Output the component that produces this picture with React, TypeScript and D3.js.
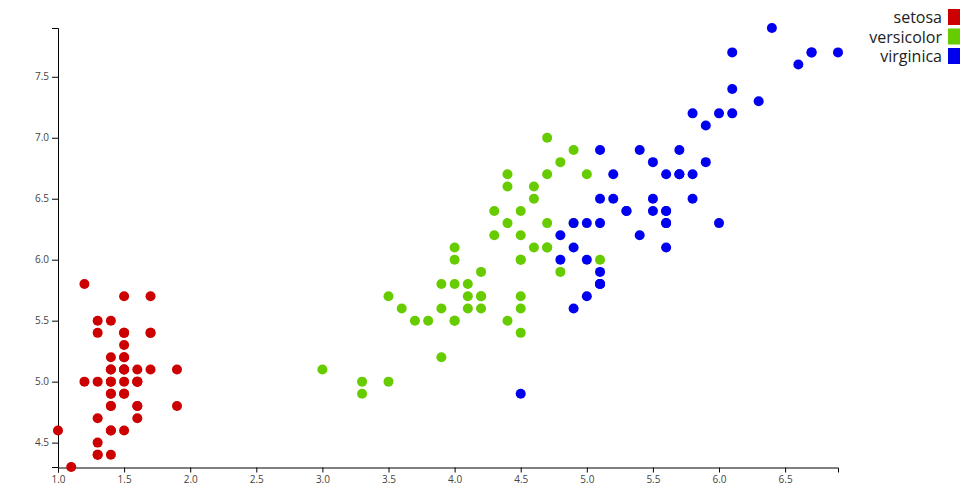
import React, { useEffect, useRef } from "react";
import * as d3 from "d3";

const species = ["setosa", "versicolor", "virginica"];
const colors = ["#cc0000", "#66cc00", "#0000ee"];

// petal length (x) and sepal length (y) per species
const setosaPetal = [1.4,1.4,1.3,1.5,1.4,1.7,1.4,1.5,1.4,1.5,1.5,1.6,1.4,1.1,1.2,1.5,1.3,1.4,1.7,1.5,1.7,1.5,1.0,1.7,1.9,1.6,1.6,1.5,1.4,1.6,1.6,1.5,1.5,1.4,1.5,1.2,1.3,1.4,1.3,1.5,1.3,1.3,1.3,1.6,1.9,1.4,1.6,1.4,1.5,1.4];
const setosaSepal = [5.1,4.9,4.7,4.6,5.0,5.4,4.6,5.0,4.4,4.9,5.4,4.8,4.8,4.3,5.8,5.7,5.4,5.1,5.7,5.1,5.4,5.1,4.6,5.1,4.8,5.0,5.0,5.2,5.2,4.7,4.8,5.4,5.2,5.5,4.9,5.0,5.5,4.9,4.4,5.1,5.0,4.5,4.4,5.0,5.1,4.8,5.1,4.6,5.3,5.0];
const versicolorPetal = [4.7,4.5,4.9,4.0,4.6,4.5,4.7,3.3,4.6,3.9,3.5,4.2,4.0,4.7,3.6,4.4,4.5,4.1,4.5,3.9,4.8,4.0,4.9,4.7,4.3,4.4,4.8,5.0,4.5,3.5,3.8,3.7,3.9,5.1,4.5,4.5,4.7,4.4,4.1,4.0,4.4,4.6,4.0,3.3,4.2,4.2,4.2,4.3,3.0,4.1];
const versicolorSepal = [7.0,6.4,6.9,5.5,6.5,5.7,6.3,4.9,6.6,5.2,5.0,5.9,6.0,6.1,5.6,6.7,5.6,5.8,6.2,5.6,5.9,6.1,6.3,6.1,6.4,6.6,6.8,6.7,6.0,5.7,5.5,5.5,5.8,6.0,5.4,6.0,6.7,6.3,5.6,5.5,5.5,6.1,5.8,5.0,5.6,5.7,5.7,6.2,5.1,5.7];
const virginicaPetal = [6.0,5.1,5.9,5.6,5.8,6.6,4.5,6.3,5.8,6.1,5.1,5.3,5.5,5.0,5.1,5.3,5.5,6.7,6.9,5.0,5.7,4.9,6.7,4.9,5.7,6.0,4.8,4.9,5.6,5.8,6.1,6.4,5.6,5.1,5.6,6.1,5.6,5.5,4.8,5.4,5.6,5.1,5.1,5.9,5.7,5.2,5.0,5.2,5.4,5.1];
const virginicaSepal = [6.3,5.8,7.1,6.3,6.5,7.6,4.9,7.3,6.7,7.2,6.5,6.4,6.8,5.7,5.8,6.4,6.5,7.7,7.7,6.0,6.9,5.6,7.7,6.3,6.7,7.2,6.2,6.1,6.4,7.2,7.4,7.9,6.4,6.3,6.1,7.7,6.3,6.4,6.0,6.9,6.7,6.9,5.8,6.8,6.7,6.7,6.3,6.5,6.2,5.9];

const xTicks = [1.0,1.5,2.0,2.5,3.0,3.5,4.0,4.5,5.0,5.5,6.0,6.5];
const yTicks = [4.5,5.0,5.5,6.0,6.5,7.0,7.5];

const W = 960, H = 500;
const margin = { top: 28, right: 122, bottom: 33, left: 58 };

export default function App() {
  const ref = useRef<SVGSVGElement>(null);
  useEffect(() => {
    const svg = d3.select(ref.current);
    svg.selectAll("*").remove();
    const petals = [setosaPetal, versicolorPetal, virginicaPetal];
    const sepals = [setosaSepal, versicolorSepal, virginicaSepal];
    const data: { x: number; y: number; s: number }[] = [];
    petals.forEach((p, s) => p.forEach((v, i) => data.push({ x: v, y: sepals[s][i], s })));

    const x = d3.scaleLinear()
      .domain(d3.extent(data, d => d.x) as [number, number])
      .range([margin.left, W - margin.right]);
    const y = d3.scaleLinear()
      .domain(d3.extent(data, d => d.y) as [number, number])
      .range([H - margin.bottom, margin.top]);

    const gx = svg.append("g").attr("transform", `translate(0,${H - margin.bottom + 0.5})`)
      .call(d3.axisBottom(x).tickValues(xTicks).tickFormat(d3.format(".1f")).tickSizeInner(5).tickSizeOuter(5));
    const gy = svg.append("g").attr("transform", `translate(${margin.left},0)`)
      .call(d3.axisLeft(y).tickValues(yTicks).tickFormat(d3.format(".1f")).tickSizeInner(6).tickSizeOuter(6));
    [gx, gy].forEach(g => {
      g.selectAll("text").attr("font-family", "Open Sans").attr("font-size", 10).attr("fill", "#444");
      g.selectAll("path,line").attr("stroke", "#000");
    });

    svg.append("g").selectAll("circle").data(data).join("circle")
      .attr("cx", d => x(d.x)).attr("cy", d => y(d.y)).attr("r", 5)
      .attr("fill", d => colors[d.s]);

    const lg = svg.append("g");
    species.forEach((s, i) => {
      lg.append("rect").attr("x", 948).attr("y", 9 + 19.5 * i).attr("width", 12).attr("height", 16).attr("fill", colors[i]);
      lg.append("text").attr("x", 942).attr("y", 23 + 19.5 * i).attr("text-anchor", "end")
        .attr("font-family", "Open Sans").attr("font-size", 16).attr("fill", "#222").text(s);
    });
  }, []);
  return <svg ref={ref} width={W} height={H} style={{ position: "absolute", left: 0, top: 0 }} />;
}
